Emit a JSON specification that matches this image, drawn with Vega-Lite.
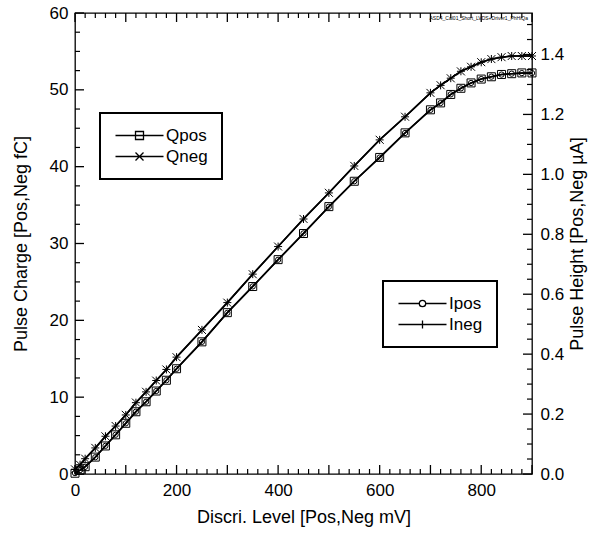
{
  "$schema": "https://vega.github.io/schema/vega-lite/v6.json",
  "width": 457,
  "height": 461,
  "autosize": {"type": "none"},
  "padding": {"left": 75, "top": 13, "right": 66, "bottom": 60},
  "background": "white",
  "config": {
    "font": "Liberation Sans",
    "view": {"stroke": "black", "strokeWidth": 1.3},
    "axis": {
      "grid": false,
      "domain": false,
      "ticks": false,
      "labelColor": "black",
      "titleColor": "black",
      "labelFont": "Liberation Sans",
      "titleFont": "Liberation Sans",
      "labelFontSize": 17,
      "titleFontSize": 18,
      "titleFontWeight": "normal",
      "labelFlush": false,
      "labelOverlap": false
    }
  },
  "datasets": {
    "charge": [
      {"x": 0, "s": "Qpos", "q": 0.1}, {"x": 10, "s": "Qpos", "q": 0.5}, {"x": 20, "s": "Qpos", "q": 0.95},
      {"x": 40, "s": "Qpos", "q": 2.2}, {"x": 60, "s": "Qpos", "q": 3.65}, {"x": 80, "s": "Qpos", "q": 5.1},
      {"x": 100, "s": "Qpos", "q": 6.6}, {"x": 120, "s": "Qpos", "q": 8.1}, {"x": 140, "s": "Qpos", "q": 9.4},
      {"x": 160, "s": "Qpos", "q": 10.8}, {"x": 180, "s": "Qpos", "q": 12.2}, {"x": 200, "s": "Qpos", "q": 13.7},
      {"x": 250, "s": "Qpos", "q": 17.2}, {"x": 300, "s": "Qpos", "q": 21.0}, {"x": 350, "s": "Qpos", "q": 24.4},
      {"x": 400, "s": "Qpos", "q": 27.9}, {"x": 450, "s": "Qpos", "q": 31.3}, {"x": 500, "s": "Qpos", "q": 34.8},
      {"x": 550, "s": "Qpos", "q": 38.1}, {"x": 600, "s": "Qpos", "q": 41.2}, {"x": 650, "s": "Qpos", "q": 44.4},
      {"x": 700, "s": "Qpos", "q": 47.4}, {"x": 720, "s": "Qpos", "q": 48.3}, {"x": 740, "s": "Qpos", "q": 49.4},
      {"x": 760, "s": "Qpos", "q": 50.2}, {"x": 780, "s": "Qpos", "q": 50.9}, {"x": 800, "s": "Qpos", "q": 51.4},
      {"x": 820, "s": "Qpos", "q": 51.7}, {"x": 840, "s": "Qpos", "q": 52.0}, {"x": 860, "s": "Qpos", "q": 52.1},
      {"x": 880, "s": "Qpos", "q": 52.2}, {"x": 900, "s": "Qpos", "q": 52.2},
      {"x": 0, "s": "Qneg", "q": 0.6}, {"x": 10, "s": "Qneg", "q": 1.2}, {"x": 20, "s": "Qneg", "q": 2.0},
      {"x": 40, "s": "Qneg", "q": 3.4}, {"x": 60, "s": "Qneg", "q": 4.9}, {"x": 80, "s": "Qneg", "q": 6.25},
      {"x": 100, "s": "Qneg", "q": 7.7}, {"x": 120, "s": "Qneg", "q": 9.3}, {"x": 140, "s": "Qneg", "q": 10.7},
      {"x": 160, "s": "Qneg", "q": 12.15}, {"x": 180, "s": "Qneg", "q": 13.6}, {"x": 200, "s": "Qneg", "q": 15.2},
      {"x": 250, "s": "Qneg", "q": 18.75}, {"x": 300, "s": "Qneg", "q": 22.3}, {"x": 350, "s": "Qneg", "q": 26.0},
      {"x": 400, "s": "Qneg", "q": 29.6}, {"x": 450, "s": "Qneg", "q": 33.2}, {"x": 500, "s": "Qneg", "q": 36.6},
      {"x": 550, "s": "Qneg", "q": 40.1}, {"x": 600, "s": "Qneg", "q": 43.5}, {"x": 650, "s": "Qneg", "q": 46.5},
      {"x": 700, "s": "Qneg", "q": 49.6}, {"x": 720, "s": "Qneg", "q": 50.6}, {"x": 740, "s": "Qneg", "q": 51.5},
      {"x": 760, "s": "Qneg", "q": 52.4}, {"x": 780, "s": "Qneg", "q": 53.0}, {"x": 800, "s": "Qneg", "q": 53.6},
      {"x": 820, "s": "Qneg", "q": 54.0}, {"x": 840, "s": "Qneg", "q": 54.25}, {"x": 860, "s": "Qneg", "q": 54.4},
      {"x": 880, "s": "Qneg", "q": 54.4}, {"x": 900, "s": "Qneg", "q": 54.4}
    ],
    "height": [
      {"x": 0, "s": "Ipos", "i": 0.003}, {"x": 10, "s": "Ipos", "i": 0.013}, {"x": 20, "s": "Ipos", "i": 0.024},
      {"x": 40, "s": "Ipos", "i": 0.056}, {"x": 60, "s": "Ipos", "i": 0.094}, {"x": 80, "s": "Ipos", "i": 0.131},
      {"x": 100, "s": "Ipos", "i": 0.169}, {"x": 120, "s": "Ipos", "i": 0.208}, {"x": 140, "s": "Ipos", "i": 0.241},
      {"x": 160, "s": "Ipos", "i": 0.277}, {"x": 180, "s": "Ipos", "i": 0.313}, {"x": 200, "s": "Ipos", "i": 0.351},
      {"x": 250, "s": "Ipos", "i": 0.441}, {"x": 300, "s": "Ipos", "i": 0.538}, {"x": 350, "s": "Ipos", "i": 0.626},
      {"x": 400, "s": "Ipos", "i": 0.715}, {"x": 450, "s": "Ipos", "i": 0.803}, {"x": 500, "s": "Ipos", "i": 0.892},
      {"x": 550, "s": "Ipos", "i": 0.977}, {"x": 600, "s": "Ipos", "i": 1.056}, {"x": 650, "s": "Ipos", "i": 1.138},
      {"x": 700, "s": "Ipos", "i": 1.215}, {"x": 720, "s": "Ipos", "i": 1.238}, {"x": 740, "s": "Ipos", "i": 1.267},
      {"x": 760, "s": "Ipos", "i": 1.287}, {"x": 780, "s": "Ipos", "i": 1.305}, {"x": 800, "s": "Ipos", "i": 1.318},
      {"x": 820, "s": "Ipos", "i": 1.326}, {"x": 840, "s": "Ipos", "i": 1.333}, {"x": 860, "s": "Ipos", "i": 1.336},
      {"x": 880, "s": "Ipos", "i": 1.338}, {"x": 900, "s": "Ipos", "i": 1.338},
      {"x": 0, "s": "Ineg", "i": 0.015}, {"x": 10, "s": "Ineg", "i": 0.031}, {"x": 20, "s": "Ineg", "i": 0.051},
      {"x": 40, "s": "Ineg", "i": 0.087}, {"x": 60, "s": "Ineg", "i": 0.126}, {"x": 80, "s": "Ineg", "i": 0.160},
      {"x": 100, "s": "Ineg", "i": 0.197}, {"x": 120, "s": "Ineg", "i": 0.238}, {"x": 140, "s": "Ineg", "i": 0.274},
      {"x": 160, "s": "Ineg", "i": 0.312}, {"x": 180, "s": "Ineg", "i": 0.349}, {"x": 200, "s": "Ineg", "i": 0.390},
      {"x": 250, "s": "Ineg", "i": 0.481}, {"x": 300, "s": "Ineg", "i": 0.572}, {"x": 350, "s": "Ineg", "i": 0.667},
      {"x": 400, "s": "Ineg", "i": 0.759}, {"x": 450, "s": "Ineg", "i": 0.851}, {"x": 500, "s": "Ineg", "i": 0.938},
      {"x": 550, "s": "Ineg", "i": 1.028}, {"x": 600, "s": "Ineg", "i": 1.115}, {"x": 650, "s": "Ineg", "i": 1.192},
      {"x": 700, "s": "Ineg", "i": 1.272}, {"x": 720, "s": "Ineg", "i": 1.297}, {"x": 740, "s": "Ineg", "i": 1.321},
      {"x": 760, "s": "Ineg", "i": 1.344}, {"x": 780, "s": "Ineg", "i": 1.359}, {"x": 800, "s": "Ineg", "i": 1.374},
      {"x": 820, "s": "Ineg", "i": 1.385}, {"x": 840, "s": "Ineg", "i": 1.391}, {"x": 860, "s": "Ineg", "i": 1.395},
      {"x": 880, "s": "Ineg", "i": 1.395}, {"x": 900, "s": "Ineg", "i": 1.395}
    ],
    "xticks": [
      {"v": 0, "k": "major"}, {"v": 20, "k": "minor"}, {"v": 40, "k": "minor"}, {"v": 60, "k": "minor"}, {"v": 80, "k": "minor"},
      {"v": 100, "k": "major"}, {"v": 120, "k": "minor"}, {"v": 140, "k": "minor"}, {"v": 160, "k": "minor"}, {"v": 180, "k": "minor"},
      {"v": 200, "k": "major"}, {"v": 220, "k": "minor"}, {"v": 240, "k": "minor"}, {"v": 260, "k": "minor"}, {"v": 280, "k": "minor"},
      {"v": 300, "k": "major"}, {"v": 320, "k": "minor"}, {"v": 340, "k": "minor"}, {"v": 360, "k": "minor"}, {"v": 380, "k": "minor"},
      {"v": 400, "k": "major"}, {"v": 420, "k": "minor"}, {"v": 440, "k": "minor"}, {"v": 460, "k": "minor"}, {"v": 480, "k": "minor"},
      {"v": 500, "k": "major"}, {"v": 520, "k": "minor"}, {"v": 540, "k": "minor"}, {"v": 560, "k": "minor"}, {"v": 580, "k": "minor"},
      {"v": 600, "k": "major"}, {"v": 620, "k": "minor"}, {"v": 640, "k": "minor"}, {"v": 660, "k": "minor"}, {"v": 680, "k": "minor"},
      {"v": 700, "k": "major"}, {"v": 720, "k": "minor"}, {"v": 740, "k": "minor"}, {"v": 760, "k": "minor"}, {"v": 780, "k": "minor"},
      {"v": 800, "k": "major"}, {"v": 820, "k": "minor"}, {"v": 840, "k": "minor"}, {"v": 860, "k": "minor"}, {"v": 880, "k": "minor"},
      {"v": 900, "k": "major"}
    ],
    "qticks": [
      {"v": 0, "k": "major"}, {"v": 2.5, "k": "minor"}, {"v": 5, "k": "minor"}, {"v": 7.5, "k": "minor"},
      {"v": 10, "k": "major"}, {"v": 12.5, "k": "minor"}, {"v": 15, "k": "minor"}, {"v": 17.5, "k": "minor"},
      {"v": 20, "k": "major"}, {"v": 22.5, "k": "minor"}, {"v": 25, "k": "minor"}, {"v": 27.5, "k": "minor"},
      {"v": 30, "k": "major"}, {"v": 32.5, "k": "minor"}, {"v": 35, "k": "minor"}, {"v": 37.5, "k": "minor"},
      {"v": 40, "k": "major"}, {"v": 42.5, "k": "minor"}, {"v": 45, "k": "minor"}, {"v": 47.5, "k": "minor"},
      {"v": 50, "k": "major"}, {"v": 52.5, "k": "minor"}, {"v": 55, "k": "minor"}, {"v": 57.5, "k": "minor"},
      {"v": 60, "k": "major"}
    ],
    "iticks": [
      {"v": 0, "k": "major"}, {"v": 0.05, "k": "minor"}, {"v": 0.1, "k": "minor"}, {"v": 0.15, "k": "minor"},
      {"v": 0.2, "k": "major"}, {"v": 0.25, "k": "minor"}, {"v": 0.3, "k": "minor"}, {"v": 0.35, "k": "minor"},
      {"v": 0.4, "k": "major"}, {"v": 0.45, "k": "minor"}, {"v": 0.5, "k": "minor"}, {"v": 0.55, "k": "minor"},
      {"v": 0.6, "k": "major"}, {"v": 0.65, "k": "minor"}, {"v": 0.7, "k": "minor"}, {"v": 0.75, "k": "minor"},
      {"v": 0.8, "k": "major"}, {"v": 0.85, "k": "minor"}, {"v": 0.9, "k": "minor"}, {"v": 0.95, "k": "minor"},
      {"v": 1.0, "k": "major"}, {"v": 1.05, "k": "minor"}, {"v": 1.1, "k": "minor"}, {"v": 1.15, "k": "minor"},
      {"v": 1.2, "k": "major"}, {"v": 1.25, "k": "minor"}, {"v": 1.3, "k": "minor"}, {"v": 1.35, "k": "minor"},
      {"v": 1.4, "k": "major"}, {"v": 1.45, "k": "minor"}, {"v": 1.5, "k": "minor"}
    ],
    "note": [
      {"x": 892, "q": 59.3, "t": "ASD4_Cal01_Short_LVDS+Driver1_PhHiQa"}
    ]
  },
  "layer": [
    {
      "layer": [
        {
          "data": {"name": "charge"},
          "mark": {"type": "line", "strokeWidth": 1.6},
          "encoding": {
            "x": {
              "field": "x", "type": "quantitative",
              "scale": {"domain": [0, 900], "nice": false},
              "axis": {
                "orient": "bottom",
                "title": "Discri. Level [Pos,Neg mV]",
                "values": [0,200,400,600,800],
                "labelPadding": 8,
                "titlePadding": 10
              }
            },
            "y": {
              "field": "q", "type": "quantitative",
              "scale": {"domain": [0, 60], "nice": false},
              "axis": {
                "orient": "left",
                "title": "Pulse Charge [Pos,Neg fC]",
                "values": [0,10,20,30,40,50,60],
                "labelPadding": 7,
                "titlePadding": 19
              }
            },
            "stroke": {
              "field": "s", "type": "nominal",
              "scale": {"domain": ["Qpos", "Qneg"], "range": ["black", "black"]},
              "legend": {
                "title": null,
                "orient": "none",
                "legendX": 25,
                "legendY": 100,
                "padding": 14,
                "strokeColor": "black",
                "fillColor": "white",
                "labelFontSize": 17,
                "labelFont": "Liberation Sans",
                "labelColor": "black",
                "symbolSize": 64,
                "symbolOffset": 17,
                "labelOffset": 18,
                "rowPadding": 3,
                "encode": {
                  "legend": {"update": {"strokeWidth": {"value": 2}}},
                  "symbols": {"update": {
                    "shape": {"signal": "datum.value === 'Qpos' ? 'M-6,0H6M-1,-1H1V1H-1Z' : 'M-6,0H6M-1,-1L1,1M-1,1L1,-1'"},
                    "fill": {"value": "transparent"},
                    "stroke": {"value": "black"},
                    "strokeWidth": {"value": 1.3}
                  }}
                }
              }
            }
          }
        },
        {
          "data": {"name": "charge"},
          "transform": [{"filter": {"field": "s", "equal": "Qpos"}}],
          "mark": {"type": "point", "shape": "square", "filled": false, "color": "black", "strokeWidth": 1, "size": 64, "opacity": 1},
          "encoding": {
            "x": {"field": "x", "type": "quantitative", "axis": null},
            "y": {"field": "q", "type": "quantitative", "axis": null}
          }
        },
        {
          "data": {"name": "charge"},
          "transform": [{"filter": {"field": "s", "equal": "Qneg"}}],
          "mark": {"type": "point", "shape": "M-1,-1L1,1M-1,1L1,-1", "filled": false, "color": "black", "strokeWidth": 1, "size": 64, "opacity": 1},
          "encoding": {
            "x": {"field": "x", "type": "quantitative", "axis": null},
            "y": {"field": "q", "type": "quantitative", "axis": null}
          }
        },
        {
          "data": {"name": "xticks"},
          "transform": [{"filter": {"field": "k", "equal": "major"}}],
          "mark": {"type": "tick", "orient": "vertical", "thickness": 1.3, "size": 9, "yOffset": -4.5, "color": "black", "opacity": 1},
          "encoding": {
            "x": {"field": "v", "type": "quantitative", "axis": null},
            "y": {"datum": 0, "type": "quantitative", "axis": null}
          }
        },
        {
          "data": {"name": "xticks"},
          "transform": [{"filter": {"field": "k", "equal": "minor"}}],
          "mark": {"type": "tick", "orient": "vertical", "thickness": 1.2, "size": 5, "yOffset": -2.5, "color": "black", "opacity": 1},
          "encoding": {
            "x": {"field": "v", "type": "quantitative", "axis": null},
            "y": {"datum": 0, "type": "quantitative", "axis": null}
          }
        },
        {
          "data": {"name": "xticks"},
          "transform": [{"filter": {"field": "k", "equal": "major"}}],
          "mark": {"type": "tick", "orient": "vertical", "thickness": 1.3, "size": 9, "yOffset": 4.5, "color": "black", "opacity": 1},
          "encoding": {
            "x": {"field": "v", "type": "quantitative", "axis": null},
            "y": {"datum": 60, "type": "quantitative", "axis": null}
          }
        },
        {
          "data": {"name": "xticks"},
          "transform": [{"filter": {"field": "k", "equal": "minor"}}],
          "mark": {"type": "tick", "orient": "vertical", "thickness": 1.2, "size": 5, "yOffset": 2.5, "color": "black", "opacity": 1},
          "encoding": {
            "x": {"field": "v", "type": "quantitative", "axis": null},
            "y": {"datum": 60, "type": "quantitative", "axis": null}
          }
        },
        {
          "data": {"name": "qticks"},
          "transform": [{"filter": {"field": "k", "equal": "major"}}],
          "mark": {"type": "tick", "orient": "horizontal", "thickness": 1.3, "size": 9, "xOffset": 4.5, "color": "black", "opacity": 1},
          "encoding": {
            "x": {"datum": 0, "type": "quantitative", "axis": null},
            "y": {"field": "v", "type": "quantitative", "axis": null}
          }
        },
        {
          "data": {"name": "qticks"},
          "transform": [{"filter": {"field": "k", "equal": "minor"}}],
          "mark": {"type": "tick", "orient": "horizontal", "thickness": 1.2, "size": 5, "xOffset": 2.5, "color": "black", "opacity": 1},
          "encoding": {
            "x": {"datum": 0, "type": "quantitative", "axis": null},
            "y": {"field": "v", "type": "quantitative", "axis": null}
          }
        },
        {
          "data": {"name": "note"},
          "mark": {"type": "text", "fontSize": 5, "align": "right", "baseline": "middle", "color": "black"},
          "encoding": {
            "x": {"field": "x", "type": "quantitative", "axis": null},
            "y": {"field": "q", "type": "quantitative", "axis": null},
            "text": {"field": "t"}
          }
        }
      ],
      "resolve": {"axis": {"x": "independent", "y": "independent"}}
    },
    {
      "layer": [
        {
          "data": {"name": "height"},
          "mark": {"type": "line", "strokeWidth": 1.6},
          "encoding": {
            "x": {"field": "x", "type": "quantitative", "axis": null},
            "y": {
              "field": "i", "type": "quantitative",
              "scale": {"domain": [0, 1.5385], "nice": false},
              "axis": {
                "orient": "right",
                "title": "Pulse Height [Pos,Neg µA]",
                "titleAngle": 270,
                "titleBaseline": "top",
                "values": [0,0.2,0.4,0.6,0.8,1,1.2,1.4],
                "format": ".1f",
                "labelPadding": 8,
                "titlePadding": 5
              }
            },
            "stroke": {
              "field": "s", "type": "nominal",
              "scale": {"domain": ["Ipos", "Ineg"], "range": ["black", "black"]},
              "legend": {
                "title": null,
                "orient": "none",
                "legendX": 308,
                "legendY": 268,
                "padding": 14,
                "strokeColor": "black",
                "fillColor": "white",
                "labelFontSize": 17,
                "labelFont": "Liberation Sans",
                "labelColor": "black",
                "symbolSize": 64,
                "symbolOffset": 17,
                "labelOffset": 18,
                "rowPadding": 3,
                "encode": {
                  "legend": {"update": {"strokeWidth": {"value": 2}}},
                  "symbols": {"update": {
                    "shape": {"signal": "datum.value === 'Ipos' ? 'M-6,0H-0.8M0.8,0H6M-0.8,0A0.8,0.8 0 1,0 0.8,0A0.8,0.8 0 1,0 -0.8,0' : 'M-6,0H6M0,-1V1'"},
                    "fill": {"value": "transparent"},
                    "stroke": {"value": "black"},
                    "strokeWidth": {"value": 1.3}
                  }}
                }
              }
            }
          }
        },
        {
          "data": {"name": "height"},
          "transform": [{"filter": {"field": "s", "equal": "Ipos"}}],
          "mark": {"type": "point", "shape": "circle", "filled": false, "color": "black", "strokeWidth": 1, "size": 28, "opacity": 1},
          "encoding": {
            "x": {"field": "x", "type": "quantitative", "axis": null},
            "y": {"field": "i", "type": "quantitative", "axis": null}
          }
        },
        {
          "data": {"name": "height"},
          "transform": [{"filter": {"field": "s", "equal": "Ineg"}}],
          "mark": {"type": "point", "shape": "M0,-1V1M-1,0H1", "filled": false, "color": "black", "strokeWidth": 1, "size": 64, "opacity": 1},
          "encoding": {
            "x": {"field": "x", "type": "quantitative", "axis": null},
            "y": {"field": "i", "type": "quantitative", "axis": null}
          }
        },
        {
          "data": {"name": "iticks"},
          "transform": [{"filter": {"field": "k", "equal": "major"}}],
          "mark": {"type": "tick", "orient": "horizontal", "thickness": 1.3, "size": 9, "xOffset": -4.5, "color": "black", "opacity": 1},
          "encoding": {
            "x": {"datum": 900, "type": "quantitative", "axis": null},
            "y": {"field": "v", "type": "quantitative", "axis": null}
          }
        },
        {
          "data": {"name": "iticks"},
          "transform": [{"filter": {"field": "k", "equal": "minor"}}],
          "mark": {"type": "tick", "orient": "horizontal", "thickness": 1.2, "size": 5, "xOffset": -2.5, "color": "black", "opacity": 1},
          "encoding": {
            "x": {"datum": 900, "type": "quantitative", "axis": null},
            "y": {"field": "v", "type": "quantitative", "axis": null}
          }
        }
      ],
      "resolve": {"axis": {"x": "independent", "y": "independent"}}
    }
  ],
  "resolve": {
    "scale": {"y": "independent", "stroke": "independent"},
    "axis": {"x": "independent", "y": "independent"},
    "legend": {"stroke": "independent"}
  }
}
